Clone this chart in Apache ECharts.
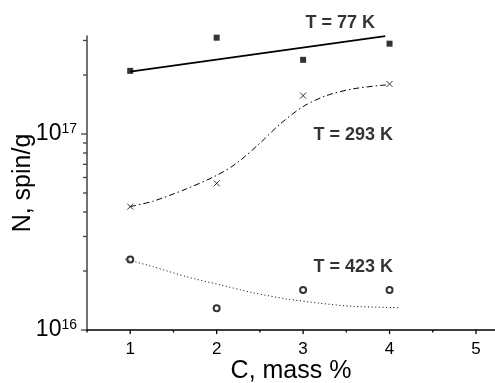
<!DOCTYPE html>
<html>
<head>
    <meta charset="utf-8">
    <script src="https://cdn.jsdelivr.net/npm/echarts@6/dist/echarts.min.js"></script>
</head>
<body style="margin:0">
    <div id="main" style="width: 495px;height:383px;"></div>
    <script type="text/javascript">
        // measured points, C (mass %) vs N (spin/g)
        var cValues = [1, 2, 3, 4];
        var n77 = [2.10e17, 3.10e17, 2.39e17, 2.89e17];
        var n293 = [4.26e16, 5.6e16, 1.57e17, 1.80e17];
        var n423 = [2.29e16, 1.29e16, 1.60e16, 1.60e16];

        // fitted curves
        var fit77 = [[1, 2.08e17], [3.95, 3.16e17]];
        var fit293 = [[1, 4.26e16], [1.27, 4.55e16], [1.65, 5.25e16], [2.0, 6.15e16], [2.23, 7.09e16],
            [2.5, 8.97e16], [2.73, 1.12e17], [3.0, 1.38e17], [3.27, 1.57e17], [3.58, 1.70e17], [3.96, 1.78e17]];
        var fit423 = [[0.94, 2.30e16], [1.27, 2.10e16], [1.65, 1.87e16], [2.04, 1.70e16], [2.42, 1.55e16],
            [2.81, 1.44e16], [3.19, 1.37e16], [3.58, 1.32e16], [4.10, 1.30e16]];

        // curve labels: [x, y, text]
        var curveLabels = [[3.43, 3.68e17, 'T = 77 K'], [3.58, 9.9e16, 'T = 293 K'], [3.58, 2.1e16, 'T = 423 K']];

        // axis ticks
        var xMin = 0.5, xMax = 5.22, yMin = 1e16, yMax = Math.pow(10, 17.5);
        var xMajorTicks = [1, 2, 3, 4, 5];
        var xMinorTicks = [0.5, 1.5, 2.5, 3.5, 4.5];
        var yMajorTicks = [1e16, 1e17];
        var yMinorTicks = [2e16, 3e16, 4e16, 5e16, 6e16, 7e16, 8e16, 9e16, 2e17, 3e17];

        function zip(xs, ys) {
            return xs.map(function (x, i) { return [x, ys[i]]; });
        }

        function tickSeries(data, dx, dy, color) {
            return {
                type: 'custom',
                silent: true,
                clip: false,
                z: 5,
                data: data,
                renderItem: function (params, api) {
                    var p = api.coord([api.value(0), api.value(1)]);
                    return {
                        type: 'line',
                        shape: { x1: p[0], y1: p[1], x2: p[0] + dx, y2: p[1] + dy },
                        style: { stroke: color, lineWidth: 1.3 }
                    };
                }
            };
        }

        var myChart = echarts.init(document.getElementById('main'));
        var font = '"Liberation Sans", Arial, sans-serif';

        var option = {
            animation: false,
            grid: { left: 87, right: 0, top: 36, bottom: 53, containLabel: false, outerBoundsMode: 'none' },
            xAxis: {
                type: 'value',
                min: xMin,
                max: xMax,
                interval: 0.5,
                splitLine: { show: false },
                axisTick: { show: false },
                axisLine: { lineStyle: { color: '#000', width: 1.5 } },
                axisLabel: {
                    fontFamily: font, fontSize: 17, color: '#000', margin: 11,
                    formatter: function (v) {
                        return Math.abs(v - Math.round(v)) < 1e-6 ? String(Math.round(v)) : '';
                    }
                },
                name: 'C, mass %',
                nameLocation: 'middle',
                nameMoveOverlap: false,
                nameGap: 29,
                nameTextStyle: { fontFamily: font, fontSize: 25, color: '#000' }
            },
            yAxis: {
                type: 'log',
                min: yMin,
                max: yMax,
                splitLine: { show: false },
                axisTick: { show: false },
                axisLine: { lineStyle: { color: '#444', width: 1.5 } },
                axisLabel: {
                    margin: 10,
                    showMaxLabel: false,
                    formatter: function (v) {
                        var e = Math.round(Math.log10(v));
                        if (Math.abs(Math.log10(v) - e) > 1e-6) return '';
                        return '{b|10}{s|' + e + '}';
                    },
                    rich: {
                        b: { fontFamily: font, fontSize: 23, color: '#000' },
                        s: { fontFamily: font, fontSize: 14, color: '#000', verticalAlign: 'top' }
                    }
                },
                name: 'N, spin/g',
                nameLocation: 'middle',
                nameMoveOverlap: false,
                nameRotate: 90,
                nameGap: 51,
                nameTextStyle: { fontFamily: font, fontSize: 25, color: '#000' }
            },
            series: [
                {
                    type: 'line', data: fit77, symbol: 'none',
                    lineStyle: { color: '#000', width: 1.8 }
                },
                {
                    type: 'line', data: fit293, symbol: 'none', smooth: 0.3,
                    lineStyle: { color: '#000', width: 1, type: [6, 3, 1.5, 3] }
                },
                {
                    type: 'line', data: fit423, symbol: 'none', smooth: 0.3,
                    lineStyle: { color: '#000', width: 1, type: [1, 2.6] }
                },
                {
                    type: 'scatter', data: zip(cValues, n77), symbol: 'rect', symbolSize: 6,
                    itemStyle: { color: '#000' }
                },
                {
                    type: 'scatter', data: zip(cValues, n293), symbol: 'path://M0,0L1,1M1,0L0,1', symbolSize: 6,
                    itemStyle: { color: 'none', borderColor: '#000', borderWidth: 1 }
                },
                {
                    type: 'scatter', data: zip(cValues, n423), symbol: 'emptyCircle', symbolSize: 6,
                    itemStyle: { color: '#000', borderColor: '#000', borderWidth: 0.9 }
                },
                {
                    type: 'scatter', clip: false, symbolSize: 0, silent: true,
                    data: curveLabels,
                    label: {
                        show: true, position: 'inside',
                        fontFamily: font, fontSize: 18, fontWeight: 'bold', color: '#000',
                        formatter: function (p) { return p.value[2]; }
                    }
                },
                tickSeries(yMajorTicks.map(function (v) { return [xMin, v]; }), -6, 0, '#444'),
                tickSeries(yMinorTicks.map(function (v) { return [xMin, v]; }), -4, 0, '#444'),
                tickSeries(xMajorTicks.map(function (v) { return [v, yMin]; }), 0, 4, '#000'),
                tickSeries(xMinorTicks.map(function (v) { return [v, yMin]; }), 0, 2.5, '#000')
            ]
        };

        myChart.setOption(option);
    </script>
</body>
</html>
